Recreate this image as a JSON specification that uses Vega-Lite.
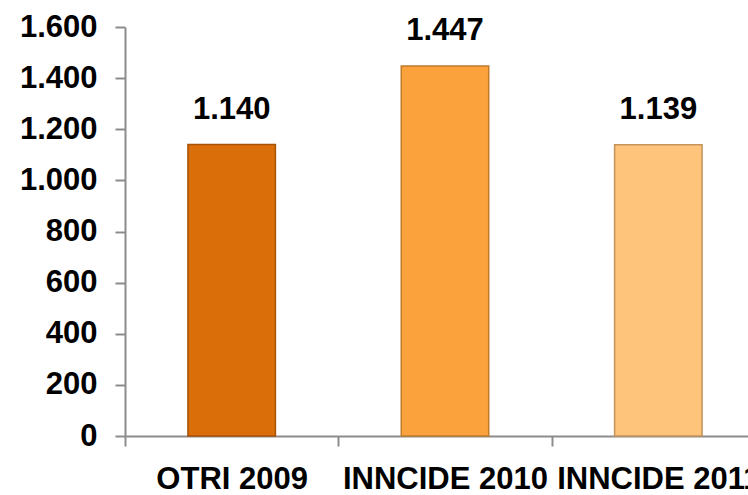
{
  "$schema": "https://vega.github.io/schema/vega-lite/v6.json",
  "autosize": {"type": "none"},
  "width": 640,
  "height": 409,
  "padding": {"left": 125, "top": 27, "right": 0, "bottom": 59},
  "background": "white",
  "config": {
    "locale": {"number": {"decimal": ",", "thousands": ".", "grouping": [3], "currency": ["€", ""]}},
    "view": {"stroke": null}
  },
  "data": {
    "values": [
      {"categoria": "OTRI 2009", "valor": 1140},
      {"categoria": "INNCIDE 2010", "valor": 1447},
      {"categoria": "INNCIDE 2011", "valor": 1139}
    ]
  },
  "encoding": {
    "x": {
      "field": "categoria",
      "type": "nominal",
      "sort": null,
      "scale": {"paddingInner": 0.59, "paddingOuter": 0.295},
      "axis": {
        "title": null,
        "labelAngle": 0,
        "labelFont": "Liberation Sans",
        "labelFontWeight": "bold",
        "labelFontSize": 31,
        "labelColor": "#000000",
        "labelPadding": 18,
        "labelBaseline": "top",
        "labelOverlap": false,
        "labelFlush": false,
        "labelLimit": 0,
        "labelOffset": 106.67,
        "tickBand": "center",
        "tickOffset": -106.67,
        "tickSize": 10,
        "tickColor": "#8C8C8C",
        "tickWidth": 2,
        "domainColor": "#8C8C8C",
        "domainWidth": 2
      }
    },
    "y": {
      "field": "valor",
      "type": "quantitative",
      "scale": {"domain": [0, 1600], "nice": false},
      "axis": {
        "title": null,
        "values": [0, 200, 400, 600, 800, 1000, 1200, 1400, 1600],
        "format": ",d",
        "grid": false,
        "labelFont": "Liberation Sans",
        "labelFontWeight": "bold",
        "labelFontSize": 31,
        "labelColor": "#000000",
        "labelPadding": 18,
        "tickSize": 10,
        "tickColor": "#8C8C8C",
        "tickWidth": 2,
        "domainColor": "#8C8C8C",
        "domainWidth": 2
      }
    }
  },
  "layer": [
    {
      "mark": {"type": "bar", "strokeWidth": 1.5},
      "encoding": {
        "color": {
          "field": "categoria",
          "type": "nominal",
          "legend": null,
          "scale": {
            "domain": ["OTRI 2009", "INNCIDE 2010", "INNCIDE 2011"],
            "range": ["#DA6F0A", "#FBA23C", "#FEC47C"]
          }
        },
        "stroke": {
          "field": "categoria",
          "type": "nominal",
          "legend": null,
          "scale": {
            "domain": ["OTRI 2009", "INNCIDE 2010", "INNCIDE 2011"],
            "range": ["#A85208", "#C07A2C", "#C4925A"]
          }
        }
      }
    },
    {
      "mark": {
        "type": "text",
        "baseline": "alphabetic",
        "dy": -26,
        "font": "Liberation Sans",
        "fontWeight": "bold",
        "fontSize": 31,
        "color": "#000000"
      },
      "encoding": {
        "text": {"field": "valor", "type": "quantitative", "format": ",d"}
      }
    }
  ]
}
